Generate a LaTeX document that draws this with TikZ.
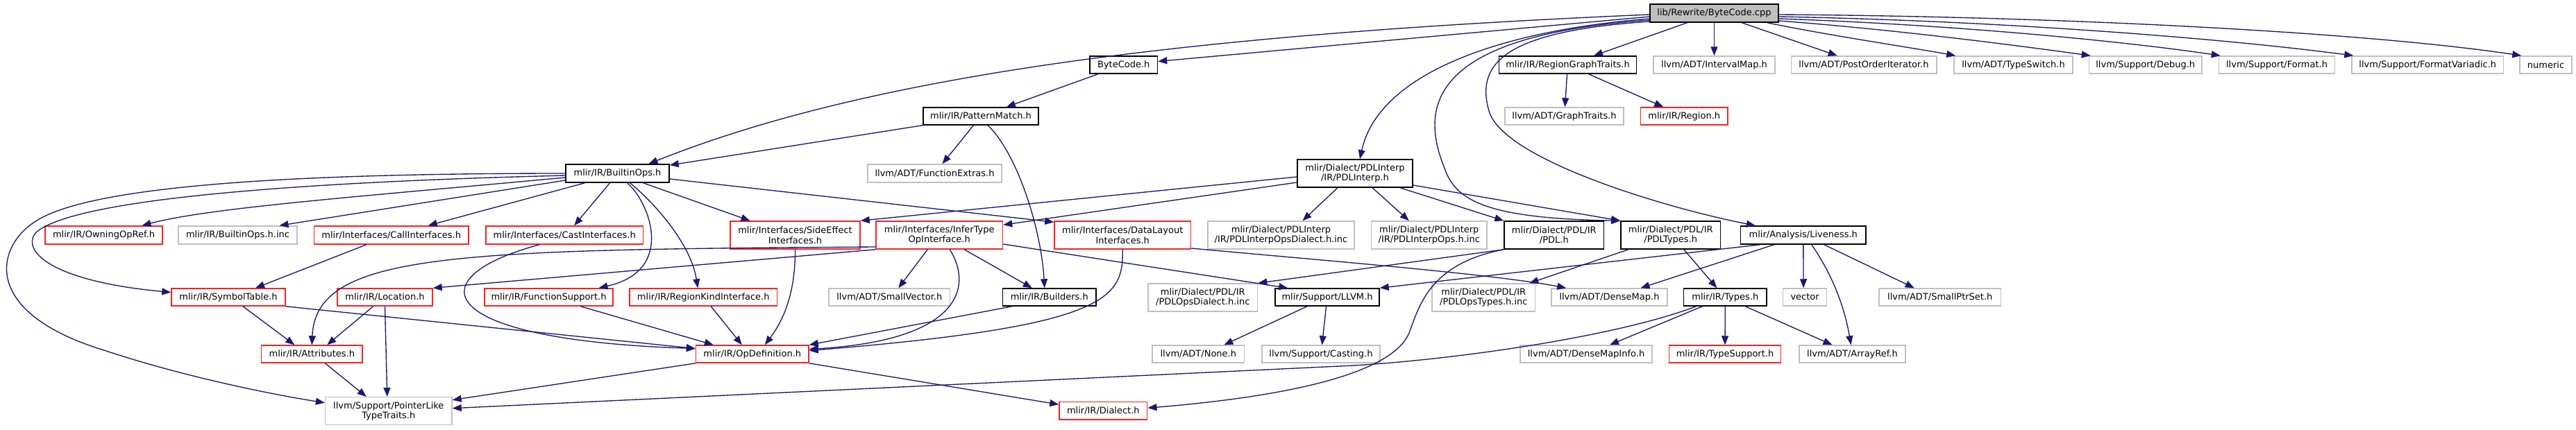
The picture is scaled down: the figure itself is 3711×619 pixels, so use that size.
\documentclass[tikz,border=0pt]{standalone}
\usepackage{fontspec}
\setmainfont{DejaVu Sans}
\usetikzlibrary{arrows.meta}
\definecolor{gborder}{HTML}{BFBFBF}
\definecolor{edgec}{HTML}{191970}
\definecolor{rborder}{HTML}{FF2020}
\newcommand{\mkbox}[7]{\node[#6, minimum width=#4pt, minimum height=#5pt] (#1) at (#2,#3) {#7};}
\tikzset{
  nd/.style={draw, line width=1.5pt, inner sep=0pt, align=center, fill=white, text=black,
    font={\fontsize{13}{14.5}\selectfont}},
  kbox/.style={nd, draw=black},
  rbox/.style={nd, draw=rborder},
  gbox/.style={nd, draw=gborder},
  rootbox/.style={nd, draw=black, fill=gborder},
  edge/.style={draw=edgec, line width=1.35pt, -{Triangle[length=13pt,width=10pt]}}
}
\begin{document}
\begin{tikzpicture}[x=1pt,y=-1pt]
\useasboundingbox (0,0) rectangle (3711,619);
% row 1
\mkbox{BC}{2469.5}{19}{185}{26}{rootbox}{lib/Rewrite/ByteCode.cpp}
% row 2
\mkbox{bch}{1618.75}{93.5}{97.5}{25}{kbox}{ByteCode.h}
\mkbox{rgt}{2258.5}{93.5}{198}{25}{kbox}{mlir/IR/RegionGraphTraits.h}
\mkbox{ivm}{2469.5}{93.5}{175}{25}{gbox}{llvm/ADT/IntervalMap.h}
\mkbox{poi}{2685}{93.5}{209.5}{25}{gbox}{llvm/ADT/PostOrderIterator.h}
\mkbox{tsw}{2900.5}{93.5}{171}{25}{gbox}{llvm/ADT/TypeSwitch.h}
\mkbox{dbg}{3090.75}{93.5}{162.5}{25}{gbox}{llvm/Support/Debug.h}
\mkbox{fmt}{3280}{93.5}{167}{25}{gbox}{llvm/Support/Format.h}
\mkbox{fmv}{3497.25}{93.5}{218.5}{25}{gbox}{llvm/Support/FormatVariadic.h}
\mkbox{num}{3667.5}{93.5}{75}{25}{gbox}{numeric}
% row 3
\mkbox{pm}{1413}{167.5}{166}{25}{kbox}{mlir/IR/PatternMatch.h}
\mkbox{gt}{2253.5}{167.5}{171}{25}{gbox}{llvm/ADT/GraphTraits.h}
\mkbox{reg}{2426.25}{167.5}{125.5}{25}{rbox}{mlir/IR/Region.h}
% row 4
\mkbox{bo}{889.5}{250}{149}{26}{kbox}{mlir/IR/BuiltinOps.h}
\mkbox{fe}{1346.5}{250}{193}{26}{gbox}{llvm/ADT/FunctionExtras.h}
\mkbox{pdli}{1952}{250}{166}{40}{kbox}{mlir/Dialect/PDLInterp\\/IR/PDLInterp.h}
% row 5
\mkbox{oor}{149.5}{339}{169}{26}{rbox}{mlir/IR/OwningOpRef.h}
\mkbox{boi}{342.5}{339}{171}{26}{gbox}{mlir/IR/BuiltinOps.h.inc}
\mkbox{ci}{563.75}{339}{222.5}{26}{rbox}{mlir/Interfaces/CallInterfaces.h}
\mkbox{cai}{813.25}{339}{226.5}{26}{rbox}{mlir/Interfaces/CastInterfaces.h}
\mkbox{se}{1145.5}{339}{187}{40}{rbox}{mlir/Interfaces/SideEffect\\Interfaces.h}
\mkbox{it}{1353.25}{339}{182.5}{40}{rbox}{mlir/Interfaces/InferType\\OpInterface.h}
\mkbox{dl}{1617.25}{339}{196.5}{40}{rbox}{mlir/Interfaces/DataLayout\\Interfaces.h}
\mkbox{pdlid}{1845.5}{339}{211}{40}{gbox}{mlir/Dialect/PDLInterp\\/IR/PDLInterpOpsDialect.h.inc}
\mkbox{pdlio}{2058.8}{339}{166.4}{40}{gbox}{mlir/Dialect/PDLInterp\\/IR/PDLInterpOps.h.inc}
\mkbox{pdl}{2238.85}{339}{143.7}{40}{kbox}{mlir/Dialect/PDL/IR\\/PDL.h}
\mkbox{pdlt}{2406.75}{339}{143.5}{40}{kbox}{mlir/Dialect/PDL/IR\\/PDLTypes.h}
\mkbox{liv}{2597.8}{339}{180.4}{26}{kbox}{mlir/Analysis/Liveness.h}
% row 6
\mkbox{st}{329}{428.5}{164}{25}{rbox}{mlir/IR/SymbolTable.h}
\mkbox{loc}{554.5}{428.5}{137}{25}{rbox}{mlir/IR/Location.h}
\mkbox{fs}{790.5}{428.5}{185}{25}{rbox}{mlir/IR/FunctionSupport.h}
\mkbox{rk}{1013.25}{428.5}{212.5}{25}{rbox}{mlir/IR/RegionKindInterface.h}
\mkbox{sv}{1281.3}{428.5}{174.6}{25}{gbox}{llvm/ADT/SmallVector.h}
\mkbox{bld}{1511.75}{428.5}{134.5}{25}{kbox}{mlir/IR/Builders.h}
\mkbox{pdlod}{1732.8}{429}{157.6}{40}{gbox}{mlir/Dialect/PDL/IR\\/PDLOpsDialect.h.inc}
\mkbox{llvmh}{1912}{428.5}{150}{25}{kbox}{mlir/Support/LLVM.h}
\mkbox{pdlot}{2137.3}{429}{148.6}{40}{gbox}{mlir/Dialect/PDL/IR\\/PDLOpsTypes.h.inc}
\mkbox{dm}{2318.5}{428.5}{167}{25}{gbox}{llvm/ADT/DenseMap.h}
\mkbox{ty}{2485.35}{428.5}{119.3}{25}{kbox}{mlir/IR/Types.h}
\mkbox{vec}{2600.1}{428.5}{62.8}{25}{gbox}{vector}
\mkbox{sps}{2794.75}{428.5}{175.5}{25}{gbox}{llvm/ADT/SmallPtrSet.h}
% row 7
\mkbox{att}{449.3}{510.5}{145.4}{25}{rbox}{mlir/IR/Attributes.h}
\mkbox{od}{1083.8}{510.5}{162.4}{25}{rbox}{mlir/IR/OpDefinition.h}
\mkbox{none}{1726.3}{510.5}{132.6}{25}{gbox}{llvm/ADT/None.h}
\mkbox{cast}{1903}{510.5}{170}{25}{gbox}{llvm/Support/Casting.h}
\mkbox{dmi}{2285}{510.5}{190}{25}{gbox}{llvm/ADT/DenseMapInfo.h}
\mkbox{ts}{2485}{510.5}{161.3}{25}{rbox}{mlir/IR/TypeSupport.h}
\mkbox{ar}{2668.5}{510.5}{153}{25}{gbox}{llvm/ADT/ArrayRef.h}
% row 8
\mkbox{plt}{559.8}{592.7}{182.4}{40}{gbox}{llvm/Support/PointerLike\\TypeTraits.h}
\mkbox{dia}{1589.35}{592.2}{126.7}{25.7}{rbox}{mlir/IR/Dialect.h}

% ---- edges from ByteCode.cpp
\draw[edge] ([yshift=-2pt]BC.west) .. controls (1700,50) and (1250,110) .. ([xshift=45pt]bo.north);
\draw[edge] ([yshift=-5pt]BC.west) -- ([yshift=5pt]bch.east);
\draw[edge] ([yshift=-8pt]BC.west) .. controls (2150,45) and (1985,110) .. ([xshift=7pt]pdli.north);
\draw[edge] ([yshift=-10pt]BC.west) .. controls (2080,50) and (2040,140) .. (2080,240) .. controls (2095,285) and (2130,315) .. (pdlt.north west);
\draw[edge] ([yshift=-12pt]BC.west) .. controls (2170,45) and (2125,90) .. (2145,160) .. controls (2165,230) and (2400,300) .. ([xshift=22pt]liv.north west);
\draw[edge] (BC) -- (rgt);
\draw[edge] (BC) -- (ivm);
\draw[edge] (BC) -- (poi);
\draw[edge] ([xshift=-17pt]BC.south east) .. controls (2640,52) and (2750,68) .. ([xshift=3pt]tsw.north west);
\draw[edge] ([yshift=-11pt]BC.east) .. controls (2720,42) and (2880,62) .. ([xshift=3pt]dbg.north west);
\draw[edge] ([yshift=-8pt]BC.east) .. controls (2800,35) and (3050,58) .. ([xshift=3pt]fmt.north west);
\draw[edge] ([yshift=-5pt]BC.east) .. controls (2880,30) and (3200,55) .. ([xshift=3pt]fmv.north west);
\draw[edge] ([yshift=-2pt]BC.east) .. controls (2990,24) and (3420,48) .. ([xshift=3pt]num.north west);
% ---- upper part
\draw[edge] (bch) -- (pm);
\draw[edge] (rgt) -- (gt);
\draw[edge] (rgt) -- (reg);
\draw[edge] (pm) -- (bo);
\draw[edge] (pm) -- (fe);
\draw[edge] ([xshift=10pt]pm.south) .. controls (1465,220) and (1500,330) .. ([xshift=-7pt]bld.north);
% ---- BuiltinOps fan-out
\draw[edge] (bo.west) .. controls (450,250) and (130,265) .. (50,320) .. controls (-5,355) and (-30,450) .. (150,505) .. controls (270,545) and (400,570) .. ([yshift=12pt]plt.west);
\draw[edge] ([yshift=-3pt]bo.west) .. controls (450,262) and (110,285) .. (52,335) .. controls (30,360) and (70,405) .. ([yshift=7pt]st.west);
\draw[edge] ([yshift=-6pt]bo.west) .. controls (500,285) and (300,300) .. ([xshift=55pt]oor.north);
\draw[edge] ([yshift=-10pt]bo.west) -- ([xshift=60pt]boi.north);
\draw[edge] ([xshift=-47pt]bo.south) -- ([xshift=53pt]ci.north);
\draw[edge] ([xshift=-11pt]bo.south) -- ([xshift=14pt]cai.north);
\draw[edge] ([xshift=14pt]bo.south) .. controls (935,290) and (975,390) .. ([xshift=72pt]fs.north);
\draw[edge] ([xshift=18pt]bo.south) .. controls (940,290) and (995,350) .. ([xshift=-8pt]rk.north);
\draw[edge] ([xshift=37pt]bo.south) -- ([xshift=-65pt]se.north);
\draw[edge] ([yshift=-8pt]bo.east) -- ([yshift=-2pt]dl.north west);
% ---- PDLInterp.h
\draw[edge] ([yshift=-5pt]pdli.west) -- (se.north east);
\draw[edge] ([yshift=-13pt]pdli.west) -- ([yshift=-6pt]it.north east);
\draw[edge] ([xshift=-25pt]pdli.south) -- ([xshift=31pt]pdlid.north);
\draw[edge] ([xshift=25pt]pdli.south) -- ([xshift=-29pt]pdlio.north);
\draw[edge] ([xshift=65pt]pdli.south) -- (pdl.north west);
\draw[edge] ([yshift=-17pt]pdli.east) -- (pdlt.north west);
% ---- InferType
\draw[edge] ([yshift=-17pt]it.west) .. controls (650,360) and (455,365) .. (att.north);
\draw[edge] (it.south west) -- (loc.north east);
\draw[edge] ([xshift=-17pt]it.south) -- ([xshift=13pt]sv.north);
\draw[edge] ([xshift=36pt]it.south) -- ([xshift=-25pt]bld.north);
\draw[edge] ([xshift=15pt]it.south) .. controls (1400,410) and (1390,490) .. ([yshift=7pt]od.east);
\draw[edge] ([yshift=-13pt]it.east) -- ([xshift=19pt]llvmh.north west);
% ---- DataLayout
\draw[edge] (dl.south) .. controls (1618,430) and (1600,470) .. ([yshift=5pt]od.east);
\draw[edge] ([yshift=-19pt]dl.east) .. controls (1900,375) and (2150,395) .. ([xshift=22pt]dm.north west);
% ---- into OpDefinition
\draw[edge] (se.south) .. controls (1146,420) and (1130,460) .. ([xshift=18pt]od.north);
\draw[edge] ([xshift=11pt]rk.south) -- ([xshift=-15pt]od.north);
\draw[edge] ([xshift=-54pt]bld.south) -- (od.north east);
\draw[edge] ([xshift=46pt]fs.south) -- ([xshift=-56pt]od.north);
\draw[edge] (st.south east) -- ([yshift=8pt]od.west);
\draw[edge] ([xshift=-36pt]cai.south) .. controls (600,400) and (620,490) .. ([yshift=8pt]od.west);
% ---- left lower part
\draw[edge] ([xshift=-36pt]ci.south) -- ([xshift=39pt]st.north);
\draw[edge] ([xshift=21pt]st.south) -- ([xshift=-25pt]att.north);
\draw[edge] ([xshift=-17pt]loc.south) -- ([xshift=22pt]att.north);
\draw[edge] (loc.south) -- ([xshift=-2pt]plt.north);
\draw[edge] ([xshift=19pt]att.south) -- ([xshift=-32pt]plt.north);
\draw[edge] (od.south west) -- ([yshift=16pt]plt.east);
\draw[edge] (od.south east) -- ([yshift=9pt]dia.west);
% ---- PDL / PDLTypes
\draw[edge] (pdl.south west) -- (pdlod.north east);
\draw[edge] (pdl.south west) .. controls (2060,380) and (2045,440) .. (2030,480) .. controls (2005,540) and (1850,572) .. ([yshift=4pt]dia.east);
\draw[edge] ([xshift=-61pt]pdlt.south) -- ([xshift=66pt]pdlot.north);
\draw[edge] ([xshift=19pt]pdlt.south) -- ([xshift=-12pt]ty.north);
% ---- Liveness
\draw[edge] ([xshift=-62pt]liv.south) -- (llvmh.north east);
\draw[edge] ([xshift=-42pt]liv.south) -- ([xshift=45pt]dm.north);
\draw[edge] (liv.south) -- ([xshift=-2pt]vec.north);
\draw[edge] ([xshift=12pt]liv.south) .. controls (2632,385) and (2655,430) .. ([xshift=-2pt]ar.north);
\draw[edge] ([xshift=30pt]liv.south) -- ([xshift=-37pt]sps.north);
% ---- Types
\draw[edge] ([xshift=-33pt]ty.south) -- ([xshift=34pt]dmi.north);
\draw[edge] (ty) -- (ts);
\draw[edge] ([xshift=29pt]ty.south) -- ([xshift=-29pt]ar.north);
\draw[edge] ([xshift=-42pt]ty.south) .. controls (2330,485) and (2100,518) .. (1950,527) -- ([yshift=4pt]plt.east);
% ---- LLVM.h
\draw[edge] ([xshift=-29pt]llvmh.south) -- ([xshift=37pt]none.north);
\draw[edge] (llvmh) -- (cast);
\end{tikzpicture}
\end{document}
